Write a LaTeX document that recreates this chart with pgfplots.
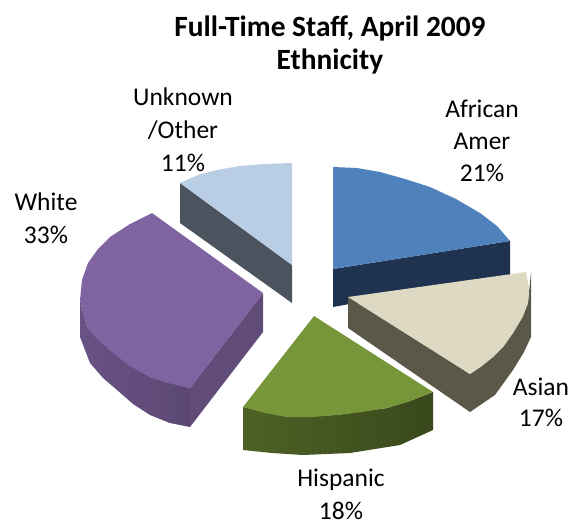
\documentclass[border=0pt]{standalone}
\usepackage{pgfplots}
\pgfplotsset{compat=1.18}
\usepackage{fontspec}
\setmainfont{Carlito}
\definecolor{blueT}{HTML}{4F81BD}
\definecolor{blueS}{HTML}{1F3350}
\definecolor{asianT}{HTML}{DDD9C3}
\definecolor{asianS}{HTML}{5C5849}
\definecolor{greenT}{HTML}{77963A}
\definecolor{purpT}{HTML}{8064A2}
\definecolor{unkT}{HTML}{B9CDE5}
\definecolor{unkS}{HTML}{4B545E}
\begin{document}
\begin{tikzpicture}
\begin{axis}[
    scale only axis, width=577pt, height=521pt,
    xmin=0, xmax=577, ymin=0, ymax=521,
    y dir=reverse, hide axis, clip=false,
]
% keeps the page at the full axis size
\path (axis cs:0,0) rectangle (axis cs:577,521);
% African Amer
\addplot[draw=none, fill=blueS] coordinates {(333,269)(510,241)(510,275)(333,307)} --cycle;
\addplot[draw=none, fill=blueT] coordinates {(333,167)(357,168)(380,172)(405,179)(430,187)(456,199)(480,213)(497,226)(510,241)(333,269)} --cycle;
% Unknown/Other
\addplot[draw=none, fill=unkS] coordinates {(180,183)(292,265)(292,303)(180,223)} --cycle;
\addplot[draw=none, fill=unkT] coordinates {(180,183)(198,175)(217,170)(240,166)(265,164)(292,163)(292,265)} --cycle;
% White
\addplot[draw=none, left color=purpT!82!black, right color=purpT!72!black] coordinates {(80,300)(80,337)(90,363)(103,378)(117,390)(133,404)(150,415)(170,423)(190,427)(190,388)(150,377)(110,350)(87,327)} --cycle;
\addplot[draw=none, fill=purpT!75!black] coordinates {(190,388)(263,293)(263,332)(190,427)} --cycle;
\addplot[draw=none, fill=purpT] coordinates {(152,213)(263,293)(190,388)(168,383)(150,377)(128,365)(110,350)(96,338)(87,327)(80,300)(82,280)(88,263)(98,249)(110,237)(130,224)} --cycle;
% Asian
\addplot[draw=none, fill=asianS] coordinates {(348,297)(470,374)(470,412)(348,328)} --cycle;
\addplot[draw=none, fill=asianS] coordinates {(470,374)(493,357)(513,333)(523,316)(528,303)(531,272)(531,337)(524,352)(513,370)(495,395)(470,412)} --cycle;
\addplot[draw=none, fill=asianT] coordinates {(348,297)(526,272)(529,288)(528,303)(522,318)(513,333)(504,346)(493,357)(482,366)(470,374)} --cycle;
% Hispanic
\addplot[draw=none, left color=greenT!65!black, middle color=greenT!38!black, right color=greenT!48!black] coordinates {(243,407)(243,450)(272,453)(303,455)(350,453)(400,445)(433,430)(433,392)(410,401)(387,408)(337,415)(287,417)} --cycle;
\addplot[draw=none, fill=greenT] coordinates {(314,316)(433,392)(410,401)(387,408)(362,412)(337,415)(312,417)(287,417)(265,413)(243,407)} --cycle;
% title and labels
\node[align=center, font=\fontsize{29.4}{33}\selectfont\bfseries] at (axis cs:330,44.5) {Full-Time Staff, April 2009\\Ethnicity};
\node[align=center, font=\fontsize{25.5}{33}\selectfont] at (axis cs:183,130) {Unknown\\/Other\\11\%};
\node[align=center, font=\fontsize{25.5}{32}\selectfont] at (axis cs:482,141) {African\\Amer\\21\%};
\node[align=center, font=\fontsize{25.5}{33}\selectfont] at (axis cs:46,218) {White\\33\%};
\node[align=center, font=\fontsize{25.5}{31}\selectfont] at (axis cs:541,402) {Asian\\17\%};
\node[align=center, font=\fontsize{25.5}{33}\selectfont] at (axis cs:341,494) {Hispanic\\18\%};
\end{axis}
\end{tikzpicture}
\end{document}
